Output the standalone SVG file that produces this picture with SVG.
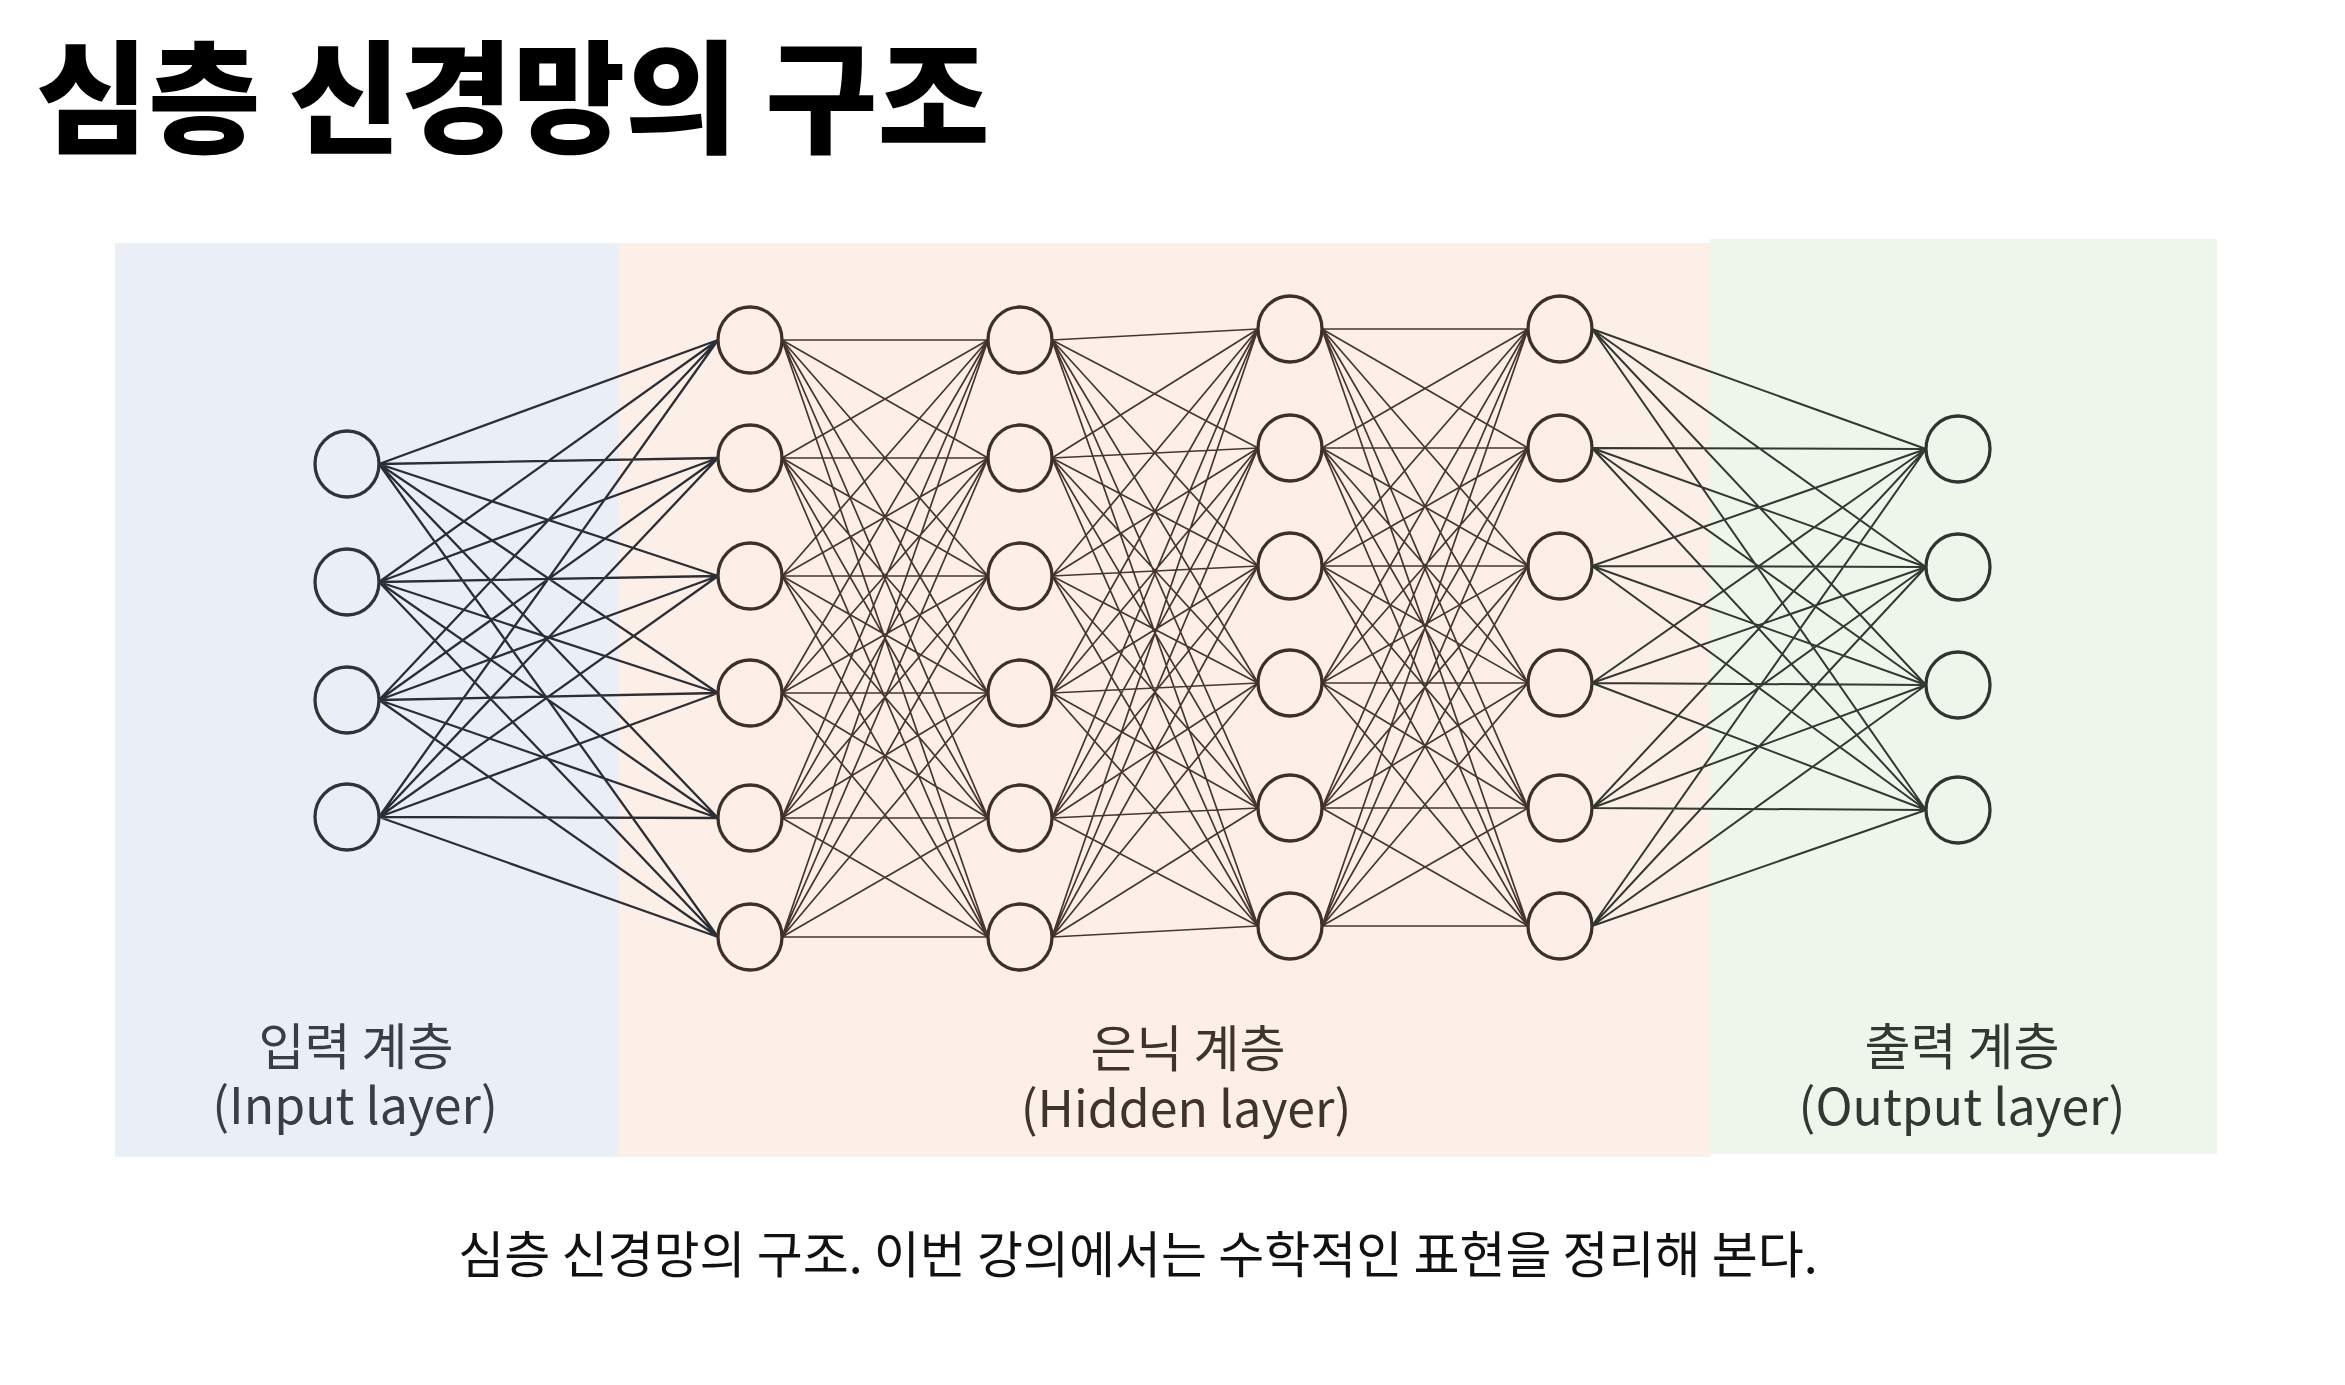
<svg xmlns="http://www.w3.org/2000/svg" width="2345" height="1385" viewBox="0 0 2345 1385">
<style>
.kr{font-family:"Noto Sans CJK KR","Noto Sans",sans-serif}
.title{font-size:122px;font-weight:900;fill:#000}
.lbl{font-size:50px;font-weight:400;text-anchor:middle}
.cap{font-size:50px;fill:#111;text-anchor:middle}
.c1{stroke:#2b2e34;stroke-width:2.3;fill:none}
.ch{stroke:#44372f;stroke-width:1.7;fill:none}
.co{stroke:#333830;stroke-width:2;fill:none}
.ni{fill:#e9eef7;stroke:#30333a;stroke-width:3.3}
.nh{fill:#fcefe7;stroke:#3c302a;stroke-width:3.3}
.no{fill:#eef6ec;stroke:#2d3630;stroke-width:3.3}
</style>
<rect width="2345" height="1385" fill="#ffffff"/>
<g id="panels">
<rect id="panel-input" x="115" y="243" width="504" height="914" fill="#e9eef7"/>
<rect id="panel-hidden" x="619" y="243" width="1091" height="914" fill="#fcefe7"/>
<rect id="panel-output" x="1710" y="239" width="507" height="915" fill="#eef6ec"/>
</g>
<text class="kr title" x="36" y="143">심층 신경망의 구조</text>
<g id="connectors">
<path class="c1" d="M379 464L718 340M379 464L718 458M379 464L718 576M379 464L718 693M379 464L718 818M379 464L718 937
M379 582L718 340M379 582L718 458M379 582L718 576M379 582L718 693M379 582L718 818M379 582L718 937
M379 700L718 340M379 700L718 458M379 700L718 576M379 700L718 693M379 700L718 818M379 700L718 937
M379 817L718 340M379 817L718 458M379 817L718 576M379 817L718 693M379 817L718 818M379 817L718 937"/>
<path class="ch" d="M782 340L988 340M782 340L988 458M782 340L988 576M782 340L988 693M782 340L988 818M782 340L988 937
M782 458L988 340M782 458L988 458M782 458L988 576M782 458L988 693M782 458L988 818M782 458L988 937
M782 576L988 340M782 576L988 458M782 576L988 576M782 576L988 693M782 576L988 818M782 576L988 937
M782 693L988 340M782 693L988 458M782 693L988 576M782 693L988 693M782 693L988 818M782 693L988 937
M782 818L988 340M782 818L988 458M782 818L988 576M782 818L988 693M782 818L988 818M782 818L988 937
M782 937L988 340M782 937L988 458M782 937L988 576M782 937L988 693M782 937L988 818M782 937L988 937"/>
<path class="ch" d="M1052 340L1258 329M1052 340L1258 448M1052 340L1258 566M1052 340L1258 683M1052 340L1258 808M1052 340L1258 926
M1052 458L1258 329M1052 458L1258 448M1052 458L1258 566M1052 458L1258 683M1052 458L1258 808M1052 458L1258 926
M1052 576L1258 329M1052 576L1258 448M1052 576L1258 566M1052 576L1258 683M1052 576L1258 808M1052 576L1258 926
M1052 693L1258 329M1052 693L1258 448M1052 693L1258 566M1052 693L1258 683M1052 693L1258 808M1052 693L1258 926
M1052 818L1258 329M1052 818L1258 448M1052 818L1258 566M1052 818L1258 683M1052 818L1258 808M1052 818L1258 926
M1052 937L1258 329M1052 937L1258 448M1052 937L1258 566M1052 937L1258 683M1052 937L1258 808M1052 937L1258 926"/>
<path class="ch" d="M1322 329L1528 329M1322 329L1528 448M1322 329L1528 566M1322 329L1528 683M1322 329L1528 808M1322 329L1528 926
M1322 448L1528 329M1322 448L1528 448M1322 448L1528 566M1322 448L1528 683M1322 448L1528 808M1322 448L1528 926
M1322 566L1528 329M1322 566L1528 448M1322 566L1528 566M1322 566L1528 683M1322 566L1528 808M1322 566L1528 926
M1322 683L1528 329M1322 683L1528 448M1322 683L1528 566M1322 683L1528 683M1322 683L1528 808M1322 683L1528 926
M1322 808L1528 329M1322 808L1528 448M1322 808L1528 566M1322 808L1528 683M1322 808L1528 808M1322 808L1528 926
M1322 926L1528 329M1322 926L1528 448M1322 926L1528 566M1322 926L1528 683M1322 926L1528 808M1322 926L1528 926"/>
<path class="co" d="M1592 329L1926 449M1592 329L1926 567M1592 329L1926 685M1592 329L1926 810
M1592 448L1926 449M1592 448L1926 567M1592 448L1926 685M1592 448L1926 810
M1592 566L1926 449M1592 566L1926 567M1592 566L1926 685M1592 566L1926 810
M1592 683L1926 449M1592 683L1926 567M1592 683L1926 685M1592 683L1926 810
M1592 808L1926 449M1592 808L1926 567M1592 808L1926 685M1592 808L1926 810
M1592 926L1926 449M1592 926L1926 567M1592 926L1926 685M1592 926L1926 810"/>
</g>
<g id="input-layer">
<g id="in1"><ellipse class="ni" cx="347" cy="464" rx="32" ry="33"/></g>
<g id="in2"><ellipse class="ni" cx="347" cy="582" rx="32" ry="33"/></g>
<g id="in3"><ellipse class="ni" cx="347" cy="700" rx="32" ry="33"/></g>
<g id="in4"><ellipse class="ni" cx="347" cy="817" rx="32" ry="33"/></g>
</g>
<g id="hidden-layer-1">
<g id="h1-1"><ellipse class="nh" cx="750" cy="340" rx="32" ry="33"/></g>
<g id="h1-2"><ellipse class="nh" cx="750" cy="458" rx="32" ry="33"/></g>
<g id="h1-3"><ellipse class="nh" cx="750" cy="576" rx="32" ry="33"/></g>
<g id="h1-4"><ellipse class="nh" cx="750" cy="693" rx="32" ry="33"/></g>
<g id="h1-5"><ellipse class="nh" cx="750" cy="818" rx="32" ry="33"/></g>
<g id="h1-6"><ellipse class="nh" cx="750" cy="937" rx="32" ry="33"/></g>
</g>
<g id="hidden-layer-2">
<g id="h2-1"><ellipse class="nh" cx="1020" cy="340" rx="32" ry="33"/></g>
<g id="h2-2"><ellipse class="nh" cx="1020" cy="458" rx="32" ry="33"/></g>
<g id="h2-3"><ellipse class="nh" cx="1020" cy="576" rx="32" ry="33"/></g>
<g id="h2-4"><ellipse class="nh" cx="1020" cy="693" rx="32" ry="33"/></g>
<g id="h2-5"><ellipse class="nh" cx="1020" cy="818" rx="32" ry="33"/></g>
<g id="h2-6"><ellipse class="nh" cx="1020" cy="937" rx="32" ry="33"/></g>
</g>
<g id="hidden-layer-3">
<g id="h3-1"><ellipse class="nh" cx="1290" cy="329" rx="32" ry="33"/></g>
<g id="h3-2"><ellipse class="nh" cx="1290" cy="448" rx="32" ry="33"/></g>
<g id="h3-3"><ellipse class="nh" cx="1290" cy="566" rx="32" ry="33"/></g>
<g id="h3-4"><ellipse class="nh" cx="1290" cy="683" rx="32" ry="33"/></g>
<g id="h3-5"><ellipse class="nh" cx="1290" cy="808" rx="32" ry="33"/></g>
<g id="h3-6"><ellipse class="nh" cx="1290" cy="926" rx="32" ry="33"/></g>
</g>
<g id="hidden-layer-4">
<g id="h4-1"><ellipse class="nh" cx="1560" cy="329" rx="32" ry="33"/></g>
<g id="h4-2"><ellipse class="nh" cx="1560" cy="448" rx="32" ry="33"/></g>
<g id="h4-3"><ellipse class="nh" cx="1560" cy="566" rx="32" ry="33"/></g>
<g id="h4-4"><ellipse class="nh" cx="1560" cy="683" rx="32" ry="33"/></g>
<g id="h4-5"><ellipse class="nh" cx="1560" cy="808" rx="32" ry="33"/></g>
<g id="h4-6"><ellipse class="nh" cx="1560" cy="926" rx="32" ry="33"/></g>
</g>
<g id="output-layer">
<g id="out1"><ellipse class="no" cx="1958" cy="449" rx="32" ry="33"/></g>
<g id="out2"><ellipse class="no" cx="1958" cy="567" rx="32" ry="33"/></g>
<g id="out3"><ellipse class="no" cx="1958" cy="685" rx="32" ry="33"/></g>
<g id="out4"><ellipse class="no" cx="1958" cy="810" rx="32" ry="33"/></g>
</g>
<g id="labels">
<text class="kr lbl" x="356" y="1065" fill="#3a3d44">입력 계층</text>
<text class="kr lbl" x="355" y="1124" fill="#3a3d44">(Input layer)</text>
<text class="kr lbl" x="1188" y="1067" fill="#3e332d">은닉 계층</text>
<text class="kr lbl" x="1186" y="1127" fill="#3e332d">(Hidden layer)</text>
<text class="kr lbl" x="1962" y="1065" fill="#2f3832">출력 계층</text>
<text class="kr lbl" x="1962" y="1125" fill="#2f3832">(Output layer)</text>
</g>
<text class="kr cap" x="1138" y="1273">심층 신경망의 구조. 이번 강의에서는 수학적인 표현을 정리해 본다.</text>
</svg>
